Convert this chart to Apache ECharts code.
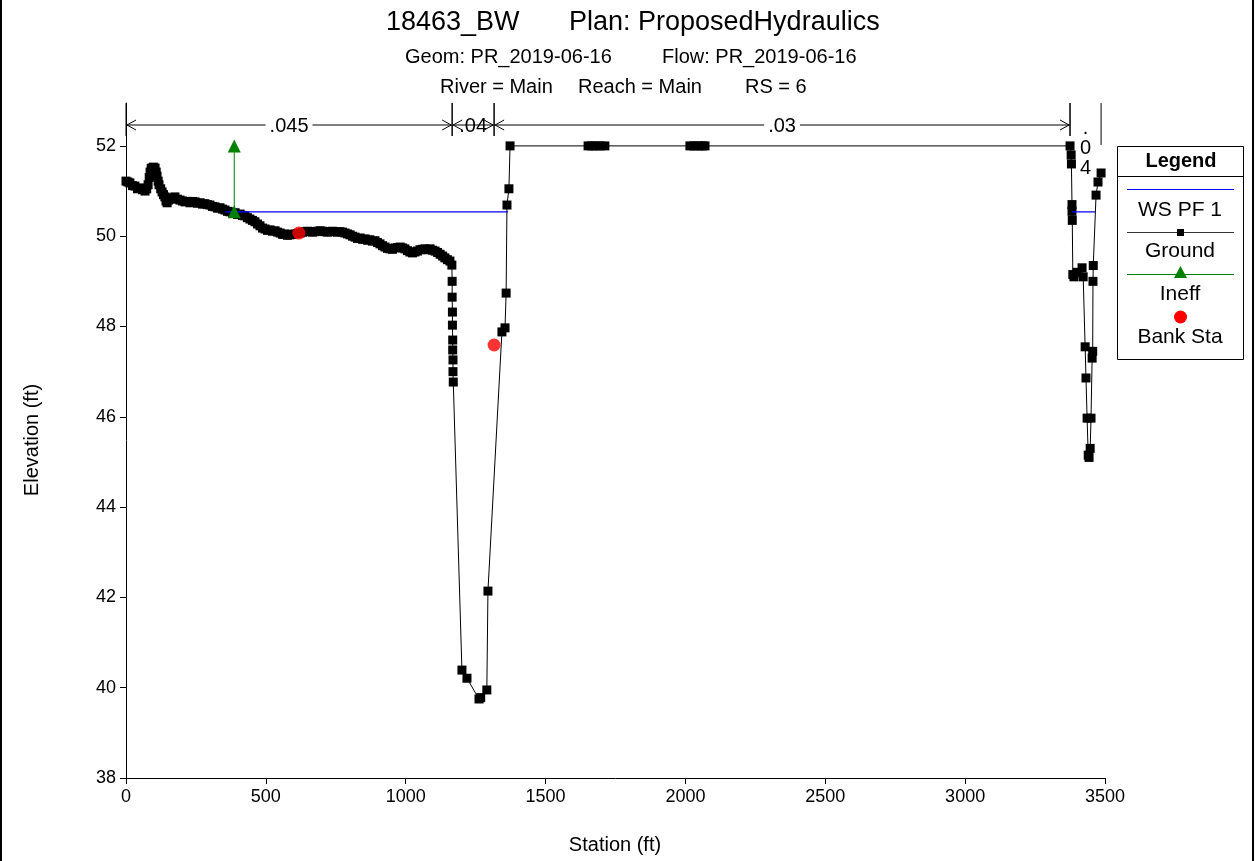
<!DOCTYPE html>
<html>
<head>
<meta charset="utf-8">
<script src="https://cdn.jsdelivr.net/npm/echarts@6/dist/echarts.min.js"></script>
<style>
html,body{margin:0;padding:0;background:#fff;}
#chart{width:1255px;height:861px;}
</style>
</head>
<body>
<div id="chart"></div>
<script>
// ---------- data ----------
const groundStation = [0,7,14,23,32,41,50,59,68,74,79,83,86,90,93,98,104,108,111,115,118,124,129,134,139,143,147,152,157,166,175,184,193,202,211,220,229,238,247,256,265,274,282,291,300,309,318,327,336,345,354,363,372,381,390,399,408,416,425,434,443,452,461,470,479,488,497,506,515,524,533,542,551,560,568,577,586,595,604,613,622,631,640,649,658,667,676,685,694,703,711,720,729,738,747,756,765,774,783,792,801,810,819,828,837,846,855,864,872,881,890,899,908,917,926,935,944,953,962,971,980,989,997,1006,1015,1024,1033,1042,1051,1060,1069,1078,1087,1096,1105,1114,1123,1132,1140,1149,1158,1165,1166,1166,1167,1167,1168,1168,1169,1169,1170,1201,1219,1262,1268,1290,1294,1344,1355,1359,1362,1369,1373,1652,1665,1680,1695,1712,2016,2030,2045,2060,2070,3375,3379,3380,3382,3382,3383,3385,3389,3400,3418,3422,3429,3432,3436,3440,3443,3447,3450,3454,3456,3457,3458,3468,3475,3486];
const groundElev = [51.22,51.20,51.18,51.12,51.11,51.05,51.07,51.03,51.00,51.05,51.14,51.30,51.42,51.50,51.51,51.53,51.51,51.42,51.33,51.22,51.14,51.05,50.98,50.92,50.87,50.78,50.74,50.80,50.83,50.85,50.87,50.82,50.80,50.78,50.76,50.77,50.74,50.77,50.76,50.73,50.74,50.71,50.72,50.70,50.69,50.66,50.65,50.62,50.63,50.60,50.58,50.55,50.54,50.51,50.52,50.48,50.49,50.46,50.45,50.41,50.38,50.35,50.32,50.27,50.23,50.18,50.16,50.13,50.14,50.11,50.12,50.09,50.07,50.04,50.05,50.02,50.03,50.04,50.05,50.06,50.07,50.09,50.10,50.11,50.10,50.09,50.10,50.11,50.12,50.11,50.10,50.09,50.10,50.11,50.10,50.09,50.10,50.09,50.07,50.05,50.03,50.00,49.98,49.95,49.96,49.93,49.94,49.91,49.92,49.89,49.90,49.86,49.83,49.79,49.76,49.73,49.72,49.71,49.74,49.75,49.76,49.74,49.72,49.68,49.65,49.63,49.65,49.67,49.70,49.71,49.72,49.70,49.72,49.69,49.67,49.64,49.60,49.56,49.52,49.48,49.45,49.36,49.00,48.65,48.32,48.03,47.70,47.48,47.26,47.00,46.77,40.39,40.21,39.75,39.78,39.95,42.14,47.88,47.97,48.74,50.69,51.05,52.00,52.00,52.00,52.00,52.00,52.00,52.00,52.00,52.00,52.00,52.00,52.00,51.80,51.60,50.70,50.55,50.35,49.15,49.10,49.20,49.30,49.10,47.55,46.86,45.97,45.15,45.10,45.30,45.97,47.30,47.45,49.00,49.35,50.91,51.20,51.40];

const wsElev = 50.54;
const wsLeftStations = [355, 1366];
const wsRightStations = [3382, 3464];

const ineffStation = [387, 387];
const ineffElev = [50.54, 52.00];

const bankStation = [618, 1316];
const bankElev = [50.07, 47.59];

const nBounds = [0, 1166, 1316, 3375, 3486];
const nValues = ['.045', '.04', '.03', '.04'];

const xTicks = [0, 500, 1000, 1500, 2000, 2500, 3000, 3500];
const yTicks = [38, 40, 42, 44, 46, 48, 50, 52];

const titleMain = ['18463_BW', 'Plan: ProposedHydraulics'];
const titleSub1 = ['Geom: PR_2019-06-16', 'Flow: PR_2019-06-16'];
const titleSub2 = ['River = Main', 'Reach = Main', 'RS = 6'];
const legendNames = ['Legend', 'WS PF 1', 'Ground', 'Ineff', 'Bank Sta'];

// ---------- chart ----------
const FONT = '"Liberation Sans", Arial, sans-serif';
const Y_MAX = 52.95;
const chart = echarts.init(document.getElementById('chart'), null, {renderer: 'canvas'});

const groundData = groundStation.map((s, i) => [s, groundElev[i]]);
const nData = nValues.map((v, i) => [nBounds[i], nBounds[i + 1], i]);

function nRender(params, api) {
  const x0 = api.coord([api.value(0), 52])[0];
  const x1 = api.coord([api.value(1), 52])[0];
  const top = api.coord([0, Y_MAX])[1];
  const y = 125;
  const label = nValues[api.value(2)];
  const isLast = api.value(2) === nValues.length - 1;
  const children = [];
  const lineStyle = {stroke: '#000', lineWidth: 1};
  children.push({type: 'line', shape: {x1: x0, y1: top, x2: x0, y2: 136}, style: lineStyle});
  children.push({type: 'line', shape: {x1: x1, y1: top, x2: x1, y2: isLast ? 145 : 136}, style: lineStyle});
  const w = x1 - x0;
  if (w > 36) {
    children.push({type: 'line', shape: {x1: x0, y1: y, x2: x1, y2: y}, style: lineStyle});
    children.push({type: 'polyline', shape: {points: [[x0 + 10, y - 5], [x0 + 1, y], [x0 + 10, y + 5]]}, style: {stroke: '#000', lineWidth: 1, fill: null}});
    children.push({type: 'polyline', shape: {points: [[x1 - 10, y - 5], [x1 - 1, y], [x1 - 10, y + 5]]}, style: {stroke: '#000', lineWidth: 1, fill: null}});
    const wide = w > 80;
    children.push({type: 'text', style: {
      x: (x0 + x1) / 2, y: y + 1, text: label, align: 'center', verticalAlign: 'middle',
      font: '20px ' + FONT, fill: '#000',
      backgroundColor: wide ? '#fff' : null, padding: wide ? [0, 4] : 0
    }});
  } else {
    children.push({type: 'text', style: {
      x: (x0 + x1) / 2, y: 118, text: label.split('').join('\n'), align: 'center', verticalAlign: 'top',
      font: '20px ' + FONT, lineHeight: 20, fill: '#000'
    }});
  }
  return {type: 'group', children: children};
}

const graphics = [
  {type: 'line', shape: {x1: 1, y1: 0, x2: 1, y2: 861}, style: {stroke: '#000', lineWidth: 2}},
  {type: 'line', shape: {x1: 1253, y1: 0, x2: 1253, y2: 861}, style: {stroke: '#000', lineWidth: 2}},
  {type: 'text', style: {x: 386, y: 23, text: titleMain[0], font: '27px ' + FONT, fill: '#000', verticalAlign: 'middle'}},
  {type: 'text', style: {x: 569, y: 23, text: titleMain[1], font: '27px ' + FONT, fill: '#000', verticalAlign: 'middle'}},
  {type: 'text', style: {x: 405, y: 57, text: titleSub1[0], font: '20px ' + FONT, fill: '#000', verticalAlign: 'middle'}},
  {type: 'text', style: {x: 662, y: 57, text: titleSub1[1], font: '20px ' + FONT, fill: '#000', verticalAlign: 'middle'}},
  {type: 'text', style: {x: 440, y: 87, text: titleSub2[0], font: '20px ' + FONT, fill: '#000', verticalAlign: 'middle'}},
  {type: 'text', style: {x: 578, y: 87, text: titleSub2[1], font: '20px ' + FONT, fill: '#000', verticalAlign: 'middle'}},
  {type: 'text', style: {x: 745, y: 87, text: titleSub2[2], font: '20px ' + FONT, fill: '#000', verticalAlign: 'middle'}},
  {type: 'text', style: {x: 615, y: 845, text: 'Station (ft)', font: '20px ' + FONT, fill: '#000', align: 'center', verticalAlign: 'middle'}},
  {type: 'text', style: {x: 32, y: 440, text: 'Elevation (ft)', font: '20px ' + FONT, fill: '#000', align: 'center', verticalAlign: 'middle'}, rotation: Math.PI / 2, originX: 32, originY: 440},
  {type: 'rect', shape: {x: 1117.5, y: 146.5, width: 126, height: 213}, style: {fill: '#fff', stroke: '#000', lineWidth: 1}, z: 10},
  {type: 'line', shape: {x1: 1117.5, y1: 176.5, x2: 1243.5, y2: 176.5}, style: {stroke: '#000', lineWidth: 1}, z: 11},
  {type: 'text', style: {x: 1181, y: 161, text: legendNames[0], font: 'bold 20px ' + FONT, fill: '#000', align: 'center', verticalAlign: 'middle'}, z: 11},
  {type: 'line', shape: {x1: 1127, y1: 189.5, x2: 1234, y2: 189.5}, style: {stroke: '#0000ff', lineWidth: 1}, z: 11},
  {type: 'text', style: {x: 1180, y: 210, text: legendNames[1], font: '21px ' + FONT, fill: '#000', align: 'center', verticalAlign: 'middle'}, z: 11},
  {type: 'line', shape: {x1: 1127, y1: 232.5, x2: 1234, y2: 232.5}, style: {stroke: '#333', lineWidth: 1}, z: 11},
  {type: 'rect', shape: {x: 1177, y: 229, width: 7, height: 7}, style: {fill: '#000'}, z: 12},
  {type: 'text', style: {x: 1180, y: 251, text: legendNames[2], font: '21px ' + FONT, fill: '#000', align: 'center', verticalAlign: 'middle'}, z: 11},
  {type: 'line', shape: {x1: 1127, y1: 274.5, x2: 1234, y2: 274.5}, style: {stroke: '#008000', lineWidth: 1}, z: 11},
  {type: 'polygon', shape: {points: [[1180.5, 266], [1187, 278], [1174, 278]]}, style: {fill: '#008000'}, z: 12},
  {type: 'text', style: {x: 1180, y: 294, text: legendNames[3], font: '21px ' + FONT, fill: '#000', align: 'center', verticalAlign: 'middle'}, z: 11},
  {type: 'circle', shape: {cx: 1180.5, cy: 317, r: 6.5}, style: {fill: '#ff0000'}, z: 11},
  {type: 'text', style: {x: 1180, y: 337, text: legendNames[4], font: '21px ' + FONT, fill: '#000', align: 'center', verticalAlign: 'middle'}, z: 11}
];

const option = {
  animation: false,
  backgroundColor: '#fff',
  tooltip: {show: false},
  axisPointer: {show: false},
  grid: {left: 126, right: 150, top: 103, bottom: 83, containLabel: false},
  xAxis: {
    type: 'value', min: 0, max: 3500, interval: 500,
    axisLine: {show: true, lineStyle: {color: '#000', width: 1}},
    axisTick: {show: true, length: 6, lineStyle: {color: '#000'}},
    axisLabel: {color: '#000', fontSize: 18, fontFamily: FONT, margin: 10, formatter: v => String(v)},
    splitLine: {show: false}
  },
  yAxis: {
    type: 'value', min: 38, max: Y_MAX, name: '',
    axisLine: {show: true, lineStyle: {color: '#000', width: 1}},
    axisTick: {show: true, length: 6, lineStyle: {color: '#000'}, customValues: yTicks},
    minorTick: {show: false},
    axisLabel: {color: '#000', fontSize: 18, fontFamily: FONT, margin: 10, customValues: yTicks, formatter: v => String(v)},
    splitLine: {show: false}
  },
  series: [
    {
      name: 'Ground', type: 'line', data: groundData,
      symbol: 'rect', symbolSize: 9, showAllSymbol: true,
      lineStyle: {color: '#000', width: 1}, itemStyle: {color: '#000'},
      z: 3, clip: false
    },
    {
      name: 'WS PF 1', type: 'line', data: wsLeftStations.map(s => [s, wsElev]),
      symbol: 'none', lineStyle: {color: '#0000ff', width: 1.2}, z: 4
    },
    {
      name: 'WS PF 1 R', type: 'line', data: wsRightStations.map(s => [s, wsElev]),
      symbol: 'none', lineStyle: {color: '#0000ff', width: 1.2}, z: 4
    },
    {
      name: 'Ineff', type: 'line', data: ineffStation.map((s, i) => [s, ineffElev[i]]),
      symbol: 'triangle', symbolSize: 13, showAllSymbol: true,
      lineStyle: {color: '#008000', width: 1}, itemStyle: {color: '#008000'}, z: 5, clip: false
    },
    {
      name: 'Bank Sta', type: 'scatter', data: bankStation.map((s, i) => [s, bankElev[i]]),
      symbol: 'circle', symbolSize: 13, itemStyle: {color: '#ff0000'}, z: 6
    },
    {
      name: 'n', type: 'custom', data: nData, renderItem: nRender, clip: false, z: 7, silent: true
    }
  ],
  graphic: graphics
};
chart.setOption(option);
</script>
</body>
</html>
